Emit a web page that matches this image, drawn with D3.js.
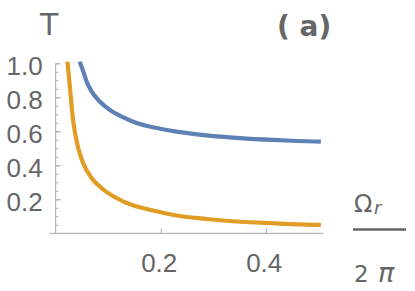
<!DOCTYPE html>
<html lang="en">
<head>
<meta charset="UTF-8">
<title>T vs Omega_r / 2 pi</title>
<style>
  html, body { margin: 0; padding: 0; background: #fff; }
  svg { display: block; font-family: "DejaVu Sans", "Liberation Sans", sans-serif; }
</style>
</head>
<body>
<svg width="415" height="291"></svg>
<script src="https://cdn.jsdelivr.net/npm/d3@7"></script>
<script>
// values
const blueX = [0.0455, 0.0526, 0.059, 0.0686, 0.0844, 0.1034, 0.1288, 0.154, 0.1924, 0.224, 0.2876, 0.351, 0.4145, 0.46, 0.505];
const blueT = [1.01, 0.951, 0.892, 0.833, 0.774, 0.725, 0.682, 0.649, 0.619, 0.601, 0.576, 0.560, 0.549, 0.543, 0.539];

const orangeX = [0.0225, 0.0272, 0.0335, 0.043, 0.0526, 0.0686, 0.0876, 0.113, 0.148, 0.1606, 0.2, 0.224, 0.2876, 0.351, 0.4145, 0.46, 0.505];
const orangeT = [1.01, 0.853, 0.656, 0.5, 0.41, 0.324, 0.265, 0.212, 0.164, 0.153, 0.124, 0.108, 0.084, 0.068, 0.059, 0.053, 0.049];

const xTicks = [0.2, 0.4];
const yTicks = [0.2, 0.4, 0.6, 0.8, 1.0];
const yMinor = d3.range(0.05, 1.0001, 0.05);

const svg = d3.select("svg");
const x = d3.scaleLinear().domain([0, 0.51]).range([55.7, 323.5]);
const y = d3.scaleLinear().domain([0, 1]).range([233.3, 63.3]);

const axisCol = "#a6a6a6", textCol = "#666";

// clip so the curves stop at the top of the plot range
svg.append("clipPath").attr("id", "clip")
  .append("rect")
  .attr("x", x(0)).attr("y", y(1) - 2)
  .attr("width", x(0.51) - x(0)).attr("height", y(0) - y(1) + 2);

// x axis
const gx = svg.append("g").attr("transform", `translate(0,${y(0)})`)
  .call(d3.axisBottom(x).tickValues(xTicks).tickSizeInner(-5).tickSizeOuter(0)
    .tickPadding(20).tickFormat(d3.format(".1f")));
gx.select(".domain").remove();
gx.append("line").attr("x1", x(-0.011)).attr("x2", x(0.51)).attr("stroke", axisCol);
gx.selectAll(".tick line").attr("stroke", axisCol);
gx.selectAll(".tick text").attr("fill", textCol).attr("font-size", 26)
  .attr("font-family", null).attr("dx", -2);

// y axis minor ticks
const gym = svg.append("g").attr("transform", `translate(${x(0)},0)`)
  .call(d3.axisLeft(y).tickValues(yMinor).tickSizeInner(-3).tickSizeOuter(0).tickFormat(""));
gym.select(".domain").remove();
gym.selectAll(".tick line").attr("stroke", "#bdbdbd");

// y axis major
const gy = svg.append("g").attr("transform", `translate(${x(0)},0)`)
  .call(d3.axisLeft(y).tickValues(yTicks).tickSizeInner(-5).tickSizeOuter(0)
    .tickPadding(13).tickFormat(d3.format(".1f")));
gy.select(".domain").remove();
gy.append("line").attr("y1", y(0)).attr("y2", y(1)).attr("stroke", axisCol);
gy.selectAll(".tick line").attr("stroke", axisCol);
gy.selectAll(".tick text").attr("fill", textCol).attr("font-size", 26)
  .attr("font-family", null).attr("dy", "0.43em");

// curves
const line = d3.line().x(d => x(d[0])).y(d => y(d[1])).curve(d3.curveMonotoneX);
const series = [
  { xs: blueX, ts: blueT, color: "#5e81b5" },
  { xs: orangeX, ts: orangeT, color: "#e19c24" }
];
svg.append("g").attr("clip-path", "url(#clip)")
  .selectAll("path").data(series).join("path")
  .attr("fill", "none")
  .attr("stroke", d => d.color)
  .attr("stroke-width", 4.2)
  .attr("d", d => line(d.xs.map((v, i) => [v, d.ts[i]])));

// labels
svg.append("text").attr("x", 40).attr("y", 35).attr("font-size", 30)
  .attr("fill", textCol).text("T");
svg.append("text").attr("x", 277).attr("y", 36).attr("font-size", 28)
  .attr("font-weight", "bold").attr("fill", textCol).attr("xml:space", "preserve").text("( a)");

// x label as a fraction
svg.append("text").attr("x", 354).attr("y", 212).attr("font-size", 24)
  .attr("fill", textCol).text("\u03A9");
svg.append("text").attr("x", 374).attr("y", 214).attr("font-size", 18)
  .attr("font-style", "italic").attr("fill", textCol).text("r");
svg.append("line").attr("x1", 353).attr("x2", 406).attr("y1", 229.5).attr("y2", 229.5)
  .attr("stroke", textCol).attr("stroke-width", 2.5);
svg.append("text").attr("x", 354).attr("y", 282).attr("font-size", 23)
  .attr("fill", textCol).text("2");
svg.append("text").attr("x", 378).attr("y", 282).attr("font-size", 27)
  .attr("font-style", "italic").attr("fill", textCol).text("\u03C0");
</script>
</body>
</html>
